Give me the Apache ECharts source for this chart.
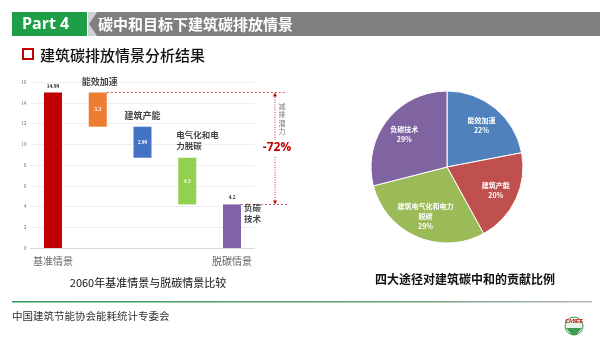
<!DOCTYPE html>
<html><head><meta charset="utf-8">
<script src="https://cdn.jsdelivr.net/npm/echarts@6/dist/echarts.min.js"></script>
<style>html,body{margin:0;padding:0;background:#fff;}#c{width:600px;height:337px;}</style>
</head><body><div id="c"></div>
<script>
// ---- data ----
const categories = ['基准情景', '能效加速', '建筑产能', '电气化和电力脱碳', '脱碳情景'];
const axisLabels = ['基准情景', '', '', '', '脱碳情景'];
const stepValues = [14.99, 3.3, 2.99, 4.5, 4.2];
const stepNotes = ['', '能效加速', '建筑产能', '电气化和电\n力脱碳', '负碳\n技术'];
const yMin = 0, yMax = 16, yStep = 2;
const reductionText = '-72%';
const potentialText = '减\n排\n潜\n力';
const pieNames = ['能效加速', '建筑产能', '建筑电气化和电力\n脱碳', '负碳技术'];
const pieValues = [22, 20, 29, 29];
const headerTag = 'Part 4';
const headerTitle = '碳中和目标下建筑碳排放情景';
const subTitle = '建筑碳排放情景分析结果';
const leftCaption = '2060年基准情景与脱碳情景比较';
const rightCaption = '四大途径对建筑碳中和的贡献比例';
const footerText = '中国建筑节能协会能耗统计专委会';

// ---- derived waterfall bases ----
const bases = [];
let running = stepValues[0];
bases.push(0);
for (let i = 1; i < stepValues.length - 1; i++) { running -= stepValues[i]; bases.push(running); }
bases.push(0);
const tops = stepValues.map((v, i) => +(bases[i] + v).toFixed(2));

const barColors = ['#C00000', '#ED7D31', '#4472C4', '#92D050', '#7F62A8'];
const pieColors = ['#4F81BD', '#C0504D', '#9BBB59', '#8064A2'];
const CJK = '"Noto Sans CJK SC", sans-serif';

const chart = echarts.init(document.getElementById('c'), null, {renderer: 'canvas'});

const noteLabels = [
  null,
  {position: 'top', distance: 6, fontSize: 9, offset: [2, 0]},
  {position: 'top', distance: 7, fontSize: 9},
  {position: 'top', distance: 6, fontSize: 8.5, align: 'left', offset: [-11, 0], lineHeight: 11},
  {position: 'right', distance: 12, fontSize: 8.5, lineHeight: 11, offset: [0, 9]}
];

const option = {
  animation: false,
  textStyle: {fontFamily: CJK},
  grid: {left: 30.6, right: 345.6, top: 82, bottom: 89},
  xAxis: {
    type: 'category', data: categories,
    axisTick: {show: false},
    axisLine: {lineStyle: {color: '#D9D9D9'}},
    axisLabel: {formatter: (v, i) => axisLabels[i], color: '#666', fontSize: 10, margin: 8, interval: 0}
  },
  yAxis: {
    type: 'value', min: yMin, max: yMax, interval: yStep,
    axisLabel: {color: '#777', fontSize: 5, margin: 4},
    splitLine: {lineStyle: {color: '#EBEBEB', width: 0.8}},
    axisLine: {show: false}, axisTick: {show: false}
  },
  series: [
    {
      type: 'bar', stack: 'w', data: bases, barWidth: 18,
      itemStyle: {color: 'transparent'}, silent: true, emphasis: {disabled: true}
    },
    {
      type: 'bar', stack: 'w', barWidth: 18,
      data: stepValues.map((v, i) => ({
        value: v,
        itemStyle: {color: barColors[i]},
        label: (i === 0 || i === stepValues.length - 1)
          ? {show: true, position: 'top', distance: i === 0 ? 3 : 4, color: '#222', fontSize: 5.5, fontWeight: 'bold', fontFamily: 'Liberation Serif'}
          : {show: true, position: 'inside', color: '#fff', fontSize: 5.5, fontWeight: 'bold', fontFamily: 'Liberation Serif'}
      })),
      emphasis: {disabled: true}
    },
    {
      type: 'scatter', symbolSize: 0, silent: true,
      data: stepNotes.map((t, i) => i === 0 ? null : ({
        value: [i, tops[i]],
        label: Object.assign({show: true, formatter: t, color: '#111', fontWeight: 'bold', fontFamily: CJK}, noteLabels[i])
      })).filter(d => d)
    },
    {
      type: 'pie', center: [447, 167], radius: [0, 76], startAngle: 90, clockwise: true,
      silent: true, label: {show: false}, labelLine: {show: false},
      itemStyle: {borderColor: '#fff', borderWidth: 1},
      data: pieNames.map((n, i) => ({name: n, value: pieValues[i], itemStyle: {color: pieColors[i]}}))
    },
    {
      type: 'pie', center: [447, 167], radius: [26, 76], startAngle: 90, clockwise: true,
      silent: true, labelLine: {show: false},
      itemStyle: {color: 'transparent', borderWidth: 0},
      label: {show: true, position: 'inside', formatter: '{b}\n{d}%', color: '#fff', fontSize: 7, fontWeight: 'bold', lineHeight: 10, fontFamily: CJK},
      data: pieNames.map((n, i) => ({name: n, value: pieValues[i]}))
    }
  ]
};
chart.setOption(option);

// positions from the chart's own scales
const pTop = chart.convertToPixel({gridIndex: 0}, [1, tops[0]]);
const pLow = chart.convertToPixel({gridIndex: 0}, [4, tops[4]]);
const barHalf = 9;
const xRight = 287, xArrow = 275;
const yHi = pTop[1], yLo = pLow[1];
const red = '#C00000';

chart.setOption({
  graphic: [
    // header
    {type: 'rect', shape: {x: 12, y: 12, width: 75, height: 24}, style: {fill: '#1F9E48'}},
    {type: 'polygon', shape: {points: [[88, 12], [97, 12], [89, 24], [97, 36], [88, 36]]}, style: {fill: '#D0D0D0'}},
    {type: 'polygon', shape: {points: [[97, 12], [600, 12], [600, 36], [97, 36], [89, 24]]}, style: {fill: '#7F7F7F'}},
    {type: 'text', x: 22, y: 24, style: {text: headerTag, fill: '#fff', font: 'bold 16px "Open Sans", "Liberation Sans", sans-serif', textVerticalAlign: 'middle'}},
    {type: 'text', x: 98, y: 24, style: {text: headerTitle, fill: '#fff', font: 'bold 15px ' + CJK, textVerticalAlign: 'middle'}},
    // sub title
    {type: 'rect', shape: {x: 23, y: 49, width: 10, height: 10}, style: {fill: 'none', stroke: red, lineWidth: 2}},
    {type: 'text', x: 40, y: 55, style: {text: subTitle, fill: '#111', font: '500 15px ' + CJK, textVerticalAlign: 'middle'}},
    // waterfall annotations
    {type: 'line', shape: {x1: pTop[0] + barHalf, y1: yHi, x2: xRight, y2: yHi}, style: {stroke: red, lineWidth: 0.8, lineDash: [2, 2], opacity: 0.8}},
    {type: 'line', shape: {x1: pLow[0] + barHalf, y1: yLo, x2: xRight, y2: yLo}, style: {stroke: red, lineWidth: 0.8, lineDash: [2, 2], opacity: 0.8}},
    {type: 'line', shape: {x1: xArrow, y1: yHi + 2, x2: xArrow, y2: yLo - 2}, style: {stroke: red, lineWidth: 0.8, lineDash: [1, 1.5]}},
    {type: 'polygon', shape: {points: [[xArrow, yHi], [xArrow - 2, yHi + 4], [xArrow + 2, yHi + 4]]}, style: {fill: red}},
    {type: 'polygon', shape: {points: [[xArrow, yLo], [xArrow - 2, yLo - 4], [xArrow + 2, yLo - 4]]}, style: {fill: red}},
    {type: 'rect', shape: {x: 262, y: 140, width: 30, height: 16}, style: {fill: '#fff'}},
    {type: 'text', x: 277, y: 148, style: {text: reductionText, fill: red, font: 'bold 12px "Open Sans", "Liberation Sans", sans-serif', textAlign: 'center', textVerticalAlign: 'middle'}},
    {type: 'text', x: 282, y: 119, style: {text: potentialText, fill: '#777', font: '7px ' + CJK, textAlign: 'center', textVerticalAlign: 'middle', lineHeight: 8.5}},
    // captions
    {type: 'text', x: 148, y: 283, style: {text: leftCaption, fill: '#111', font: '11px ' + CJK, textAlign: 'center', textVerticalAlign: 'middle'}},
    {type: 'text', x: 465, y: 279, style: {text: rightCaption, fill: '#111', font: 'bold 12px ' + CJK, textAlign: 'center', textVerticalAlign: 'middle'}},
    // footer
    {type: 'rect', shape: {x: 12, y: 301, width: 580, height: 1.5},
      style: {fill: new echarts.graphic.LinearGradient(0, 0, 1, 0, [{offset: 0, color: '#2E9A55'}, {offset: 0.7, color: '#6FA07E'}, {offset: 1, color: '#B8B8B8'}])}},
    {type: 'text', x: 12, y: 316, style: {text: footerText, fill: '#333', font: '10.5px ' + CJK, textVerticalAlign: 'middle'}},
    {type: 'circle', shape: {cx: 574, cy: 326, r: 9}, style: {fill: '#E9F3E6', stroke: '#3E9B4F', lineWidth: 1}},
    {type: 'polygon', shape: {points: [[566, 328], [582, 328], [576, 335], [572, 335]]}, style: {fill: '#3E9B4F'}},
    {type: 'text', x: 574, y: 322, style: {text: 'CABEE', fill: '#C00000', font: 'bold 5px "Liberation Sans", sans-serif', textAlign: 'center', textVerticalAlign: 'middle'}}
  ]
});
</script>
</body></html>
